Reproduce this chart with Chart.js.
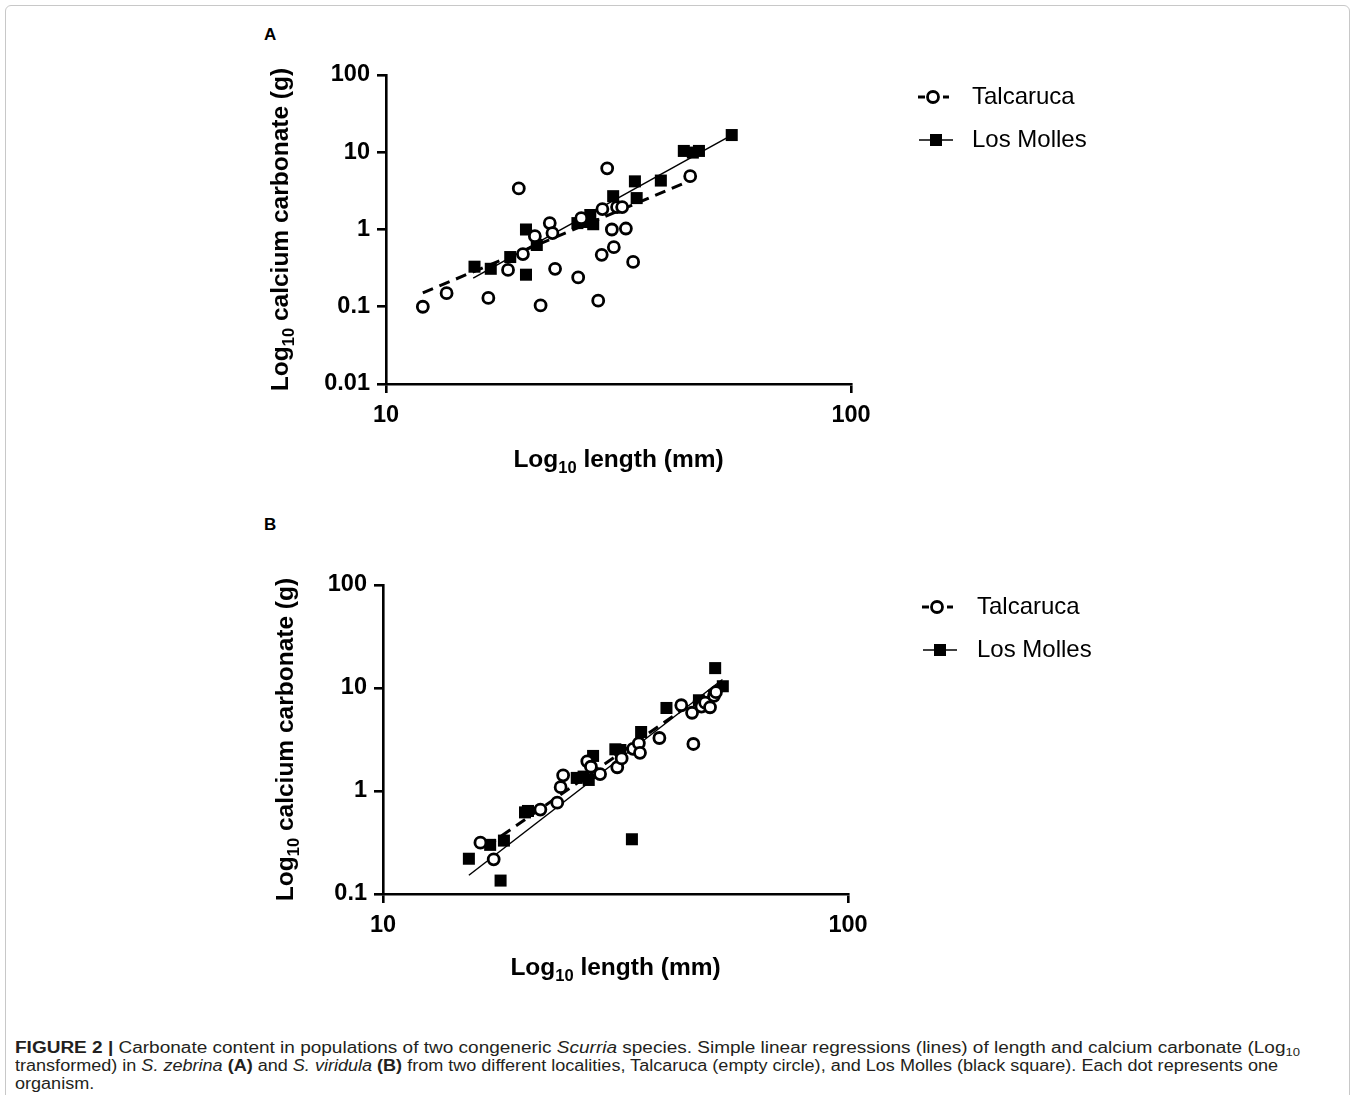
<!DOCTYPE html>
<html><head><meta charset="utf-8">
<script src="https://cdn.jsdelivr.net/npm/chart.js@4.4.1/dist/chart.umd.min.js"></script>
<style>
html,body{margin:0;padding:0;background:#fff;}
body{width:1358px;height:1095px;position:relative;overflow:hidden;font-family:"Liberation Sans",Arial,sans-serif;}
#frame{position:absolute;left:5px;top:5px;width:1345px;height:1130px;border:1.5px solid #c8c8c8;border-radius:6px;box-sizing:border-box;}
canvas{position:absolute;left:0;}
#cA{top:0;} #cB{top:500px;}
.plabel{position:absolute;font:bold 17px "Liberation Sans",Arial,sans-serif;color:#000;}
#caption{position:absolute;left:15px;top:1039px;font-size:16px;color:#231f20;line-height:18px;}
.cl{white-space:nowrap;display:inline-block;transform-origin:0 0;}
.cl sub{font-size:11px;line-height:0;vertical-align:-3px;}
</style>
</head><body>
<div id="frame"></div>
<div class="plabel" style="left:264px;top:25px;">A</div>
<div class="plabel" style="left:264px;top:515px;">B</div>
<canvas id="cA" width="1358" height="500"></canvas>
<canvas id="cB" width="1358" height="500"></canvas>
<div id="caption">
<div class="cl" id="cl1"><b>FIGURE 2 |</b> Carbonate content in populations of two congeneric <i>Scurria</i> species. Simple linear regressions (lines) of length and calcium carbonate (Log<sub>10</sub></div><br>
<div class="cl" id="cl2">transformed) in <i>S. zebrina</i> <b>(A)</b> and <i>S. viridula</i> <b>(B)</b> from two different localities, Talcaruca (empty circle), and Los Molles (black square). Each dot represents one</div><br>
<div class="cl" id="cl3">organism.</div>
</div>
<script>
// ---------- data ----------
const seriesNames = ['Talcaruca', 'Los Molles'];
const xTicks = [10, 100];
const yTicksA = [0.01, 0.1, 1, 10, 100];
const yTicksB = [0.1, 1, 10, 100];
// axis titles: [main, subscript, rest]
const xTitleParts = ['Log', '10', ' length (mm)'];
const yTitleParts = ['Log', '10', ' calcium carbonate (g)'];

// Panel A (S. zebrina)
const aTalLength    = [12.0, 13.5, 16.6, 18.3, 19.3, 19.7, 20.9, 21.5, 22.5, 22.8, 23.1, 25.9, 26.3, 28.6, 29.1, 29.2, 29.9, 30.6, 30.9, 31.4, 32.2, 32.8, 34.0, 45.1];
const aTalCarbonate = [0.10, 0.15, 0.13, 0.30, 3.4, 0.48, 0.82, 0.104, 1.21, 0.90, 0.31, 0.24, 1.40, 0.12, 0.47, 1.84, 6.2, 1.0, 0.59, 1.95, 1.95, 1.03, 0.38, 4.9];
const aMolLength    = [15.5, 16.8, 18.5, 20.0, 20.0, 21.1, 25.8, 26.5, 27.5, 27.9, 30.8, 34.3, 34.6, 39.0, 43.7, 45.7, 47.1, 55.4];
const aMolCarbonate = [0.33, 0.31, 0.44, 1.0, 0.26, 0.63, 1.21, 1.25, 1.54, 1.17, 2.7, 4.2, 2.55, 4.3, 10.4, 9.9, 10.4, 16.7];
const aTalFitLength    = [12.0, 45.1];
const aTalFitCarbonate = [0.151, 4.28];
const aMolFitLength    = [15.4, 55.4];
const aMolFitCarbonate = [0.235, 16.7];

// Panel B (S. viridula)
const bTalLength    = [16.2, 17.3, 21.8, 23.7, 24.1, 24.4, 27.5, 28.0, 29.3, 31.9, 32.6, 34.5, 35.5, 35.7, 39.3, 43.8, 46.2, 46.5, 48.4, 49.3, 50.5, 51.5, 52.0];
const bTalCarbonate = [0.315, 0.217, 0.66, 0.77, 1.09, 1.42, 1.94, 1.72, 1.46, 1.70, 2.07, 2.57, 2.9, 2.35, 3.27, 6.8, 5.75, 2.86, 6.6, 7.2, 6.5, 8.4, 9.1];
const bMolLength    = [15.3, 17.0, 17.9, 18.2, 20.2, 20.5, 26.1, 27.0, 27.7, 28.3, 31.6, 32.4, 34.3, 35.9, 40.7, 47.8, 51.8, 53.8];
const bMolCarbonate = [0.22, 0.30, 0.135, 0.33, 0.62, 0.64, 1.34, 1.38, 1.28, 2.19, 2.54, 2.5, 0.34, 3.74, 6.4, 7.6, 15.6, 10.4];
const bTalFitLength    = [16.7, 53.1];
const bTalFitCarbonate = [0.29, 11.1];
const bMolFitLength    = [15.3, 53.7];
const bMolFitCarbonate = [0.152, 12.1];

// ---------- helpers ----------
const pts = (xs, ys) => xs.map((x, i) => ({x, y: ys[i]}));
const FONT = '"Liberation Sans", Arial, Helvetica, sans-serif';

function drawSubTitle(ctx, parts, cx, cy, rot) {
  const big = 'bold 24.5px ' + FONT, small = 'bold 16.5px ' + FONT;
  ctx.save();
  ctx.translate(cx, cy);
  ctx.rotate(rot);
  ctx.fillStyle = '#000';
  ctx.textBaseline = 'alphabetic';
  ctx.font = big; const w0 = ctx.measureText(parts[0]).width, w2 = ctx.measureText(parts[2]).width;
  ctx.font = small; const w1 = ctx.measureText(parts[1]).width;
  let x = -(w0 + w1 + w2) / 2;
  const base = 8.5;
  ctx.font = big; ctx.fillText(parts[0], x, base); x += w0;
  ctx.font = small; ctx.fillText(parts[1], x, base + 6); x += w1;
  ctx.font = big; ctx.fillText(parts[2], x, base);
  ctx.restore();
}

const decorPlugin = {
  id: 'decor',
  afterDraw(chart, args, o) {
    const ctx = chart.ctx, ca = chart.chartArea;
    drawSubTitle(ctx, xTitleParts, (ca.left + ca.right) / 2, o.xTitleY, 0);
    drawSubTitle(ctx, yTitleParts, o.yTitleX, (ca.top + ca.bottom) / 2, -Math.PI / 2);
    ctx.save();
    ctx.font = '24px ' + FONT;
    ctx.textBaseline = 'middle';
    ctx.fillStyle = '#000';
    ctx.strokeStyle = '#000';
    let y = o.y0;
    ctx.lineWidth = 3;
    ctx.beginPath(); ctx.moveTo(o.sx, y); ctx.lineTo(o.sx + 7, y); ctx.stroke();
    ctx.beginPath(); ctx.moveTo(o.sx + 25, y); ctx.lineTo(o.sx + 31, y); ctx.stroke();
    ctx.beginPath(); ctx.arc(o.sx + 15, y, 5.5, 0, Math.PI * 2);
    ctx.fillStyle = '#fff'; ctx.fill(); ctx.lineWidth = 2.8; ctx.stroke();
    ctx.fillStyle = '#000';
    ctx.fillText(seriesNames[0], o.tx, y);
    y = o.y0 + o.dy;
    ctx.lineWidth = 1.5;
    ctx.beginPath(); ctx.moveTo(o.sx + 1, y); ctx.lineTo(o.sx + 35, y); ctx.stroke();
    ctx.fillRect(o.sx + 12, y - 6, 12, 12);
    ctx.fillText(seriesNames[1], o.tx, y);
    ctx.restore();
  }
};

function makeChart(id, d, yTicks, lay) {
  const tickFont = {family: FONT, size: 23.5, weight: 'bold'};
  return new Chart(document.getElementById(id), {
    type: 'scatter',
    data: {
      datasets: [
        {label: seriesNames[0], data: pts(d.tl, d.tc), pointStyle: 'circle', pointRadius: 5.5,
         borderWidth: 2.8, borderColor: '#000', backgroundColor: '#fff', order: 0},
        {label: seriesNames[1], data: pts(d.ml, d.mc), pointStyle: 'rect', pointRadius: 8.5,
         borderWidth: 0, borderColor: '#000', backgroundColor: '#000', order: 1},
        {label: seriesNames[0] + ' fit', data: pts(d.tfl, d.tfc), showLine: true, pointRadius: 0,
         borderColor: '#000', borderWidth: 3, borderDash: [11, 7], order: 2},
        {label: seriesNames[1] + ' fit', data: pts(d.mfl, d.mfc), showLine: true, pointRadius: 0,
         borderColor: '#000', borderWidth: 1.5, order: 3}
      ]
    },
    options: {
      responsive: false, animation: false, devicePixelRatio: 1, events: [],
      layout: {padding: {left: lay.padL, right: lay.padR, top: lay.padT, bottom: 0}},
      plugins: {legend: {display: false}, tooltip: {enabled: false}, decor: lay.decor},
      scales: {
        x: {
          type: 'logarithmic', min: 10, max: 100,
          afterBuildTicks: s => { s.ticks = xTicks.map(v => ({value: v})); },
          afterFit: s => { s.height = lay.xH; },
          ticks: {font: tickFont, color: '#000', padding: 8, maxRotation: 0, autoSkip: false,
                  callback: v => String(v)},
          grid: {display: true, drawOnChartArea: false, drawTicks: true, tickLength: 9, color: '#000', lineWidth: 2.6},
          border: {display: true, color: '#000', width: 2.6},
          title: {display: false}
        },
        y: {
          type: 'logarithmic', min: yTicks[0], max: yTicks[yTicks.length - 1],
          afterBuildTicks: s => { s.ticks = yTicks.map(v => ({value: v})); },
          afterFit: s => { s.width = lay.yW; },
          ticks: {font: tickFont, color: '#000', padding: 7, autoSkip: false,
                  callback: v => String(v)},
          grid: {display: true, drawOnChartArea: false, drawTicks: true, tickLength: 9, color: '#000', lineWidth: 2.6},
          border: {display: true, color: '#000', width: 2.6},
          title: {display: false}
        }
      }
    },
    plugins: [decorPlugin]
  });
}

makeChart('cA', {tl: aTalLength, tc: aTalCarbonate, ml: aMolLength, mc: aMolCarbonate,
                 tfl: aTalFitLength, tfc: aTalFitCarbonate, mfl: aMolFitLength, mfc: aMolFitCarbonate},
  yTicksA, {padL: 262, padR: 507, padT: 75, yW: 124, xH: 116,
            decor: {sx: 918, tx: 972, y0: 97, dy: 43, xTitleY: 458, yTitleX: 279}});
makeChart('cB', {tl: bTalLength, tc: bTalCarbonate, ml: bMolLength, mc: bMolCarbonate,
                 tfl: bTalFitLength, tfc: bTalFitCarbonate, mfl: bMolFitLength, mfc: bMolFitCarbonate},
  yTicksB, {padL: 268, padR: 510, padT: 85, yW: 115, xH: 106,
            decor: {sx: 922, tx: 977, y0: 107, dy: 43, xTitleY: 466, yTitleX: 284}});

(function () {
  const l1 = document.getElementById('cl1'), l2 = document.getElementById('cl2'), l3 = document.getElementById('cl3');
  const f1 = 1285 / l1.getBoundingClientRect().width;
  const f2 = 1263 / l2.getBoundingClientRect().width;
  l1.style.transform = 'scaleX(' + f1 + ')';
  l2.style.transform = 'scaleX(' + f2 + ')';
  l3.style.transform = 'scaleX(' + f2 + ')';
})();
</script>
</body></html>
